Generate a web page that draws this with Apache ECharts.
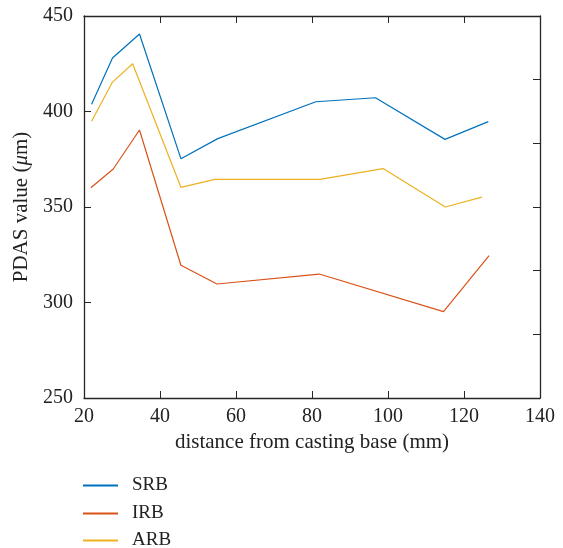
<!DOCTYPE html>
<html>
<head>
<meta charset="utf-8">
<script src="https://cdn.jsdelivr.net/npm/echarts@6/dist/echarts.min.js"></script>
<style>html,body{margin:0;padding:0;background:#fff}#c{width:563px;height:548px}</style>
</head>
<body>
<div id="c"></div>
<script>
const seriesNames = ['SRB', 'IRB', 'ARB'];
const srbX = [22.0, 27.5, 34.6, 45.5, 55.2, 81.0, 96.7, 115.0, 126.4];
const srbY = [403.8, 428.0, 440.6, 375.3, 385.8, 405.1, 407.2, 385.4, 394.7];
const irbX = [21.8, 27.7, 34.6, 45.5, 55.0, 81.9, 114.6, 126.6];
const irbY = [360.1, 369.9, 390.3, 319.5, 309.7, 314.9, 295.2, 324.5];
const arbX = [22.0, 27.5, 32.8, 45.5, 54.4, 82.1, 98.7, 115.1, 124.7];
const arbY = [394.9, 415.4, 425.0, 360.3, 364.5, 364.5, 370.1, 350.0, 355.2];
const xTicks = [20, 40, 60, 80, 100, 120, 140];
const yTicks = [250, 300, 350, 400, 450];
const colors = ['#0072BD', '#D95319', '#EDB120'];

const pair = (xs, ys) => xs.map((x, i) => [x, ys[i]]);
const font = 'Liberation Serif';
const chart = echarts.init(document.getElementById('c'));
const axisLine = {show: true, lineStyle: {color: '#262626', width: 1.3}};
const legendTops = [476, 504, 531];
chart.setOption({
  animation: false,
  color: colors,
  grid: {left: 84, right: 23, top: 16, bottom: 150, containLabel: false},
  legend: seriesNames.map((n, i) => ({
    orient: 'vertical', left: 83, top: legendTops[i], padding: 0, itemWidth: 35, itemHeight: 2,
    icon: 'rect',
    textStyle: {fontFamily: font, fontSize: 19, lineHeight: 16, color: '#222', padding: [0, 0, 0, 9]},
    data: [n]
  })),
  xAxis: [{
    type: 'value', min: xTicks[0], max: xTicks[xTicks.length - 1], interval: 20,
    name: 'distance from casting base (mm)', nameLocation: 'middle', nameGap: 32,
    nameTextStyle: {fontFamily: font, fontSize: 21, color: '#222'},
    axisLine: axisLine,
    axisTick: {inside: true, length: 7, lineStyle: {color: '#262626'}},
    axisLabel: {fontFamily: font, fontSize: 20, color: '#222', margin: 9},
    splitLine: {show: false}
  }, {
    type: 'value', position: 'top', min: xTicks[0], max: xTicks[xTicks.length - 1], interval: 20,
    axisLine: axisLine,
    axisTick: {inside: true, length: 7, lineStyle: {color: '#262626'}},
    axisLabel: {show: false}, splitLine: {show: false}
  }],
  yAxis: [{
    type: 'value', min: yTicks[0], max: yTicks[yTicks.length - 1], interval: 50,
    name: '{n|PDAS value (}{i|μ}{n|m)}', nameLocation: 'middle', nameGap: 38,
    nameTextStyle: {rich: {
      n: {fontFamily: font, fontSize: 21, color: '#222'},
      i: {fontFamily: font, fontSize: 21, color: '#222', fontStyle: 'italic'}
    }},
    axisLine: axisLine,
    axisTick: {inside: true, length: 7, lineStyle: {color: '#262626'}},
    axisLabel: {fontFamily: font, fontSize: 20, color: '#222', margin: 11},
    splitLine: {show: false}
  }, {
    type: 'value', position: 'right', min: 0, max: 6, interval: 1,
    axisLine: axisLine,
    axisTick: {inside: true, length: 7, lineStyle: {color: '#262626'}},
    axisLabel: {show: false}, splitLine: {show: false}
  }],
  series: [
    {name: 'SRB', type: 'line', data: pair(srbX, srbY), symbol: 'none', lineStyle: {width: 1.2}},
    {name: 'IRB', type: 'line', data: pair(irbX, irbY), symbol: 'none', lineStyle: {width: 1.2}},
    {name: 'ARB', type: 'line', data: pair(arbX, arbY), symbol: 'none', lineStyle: {width: 1.2}}
  ]
});
</script>
</body>
</html>
